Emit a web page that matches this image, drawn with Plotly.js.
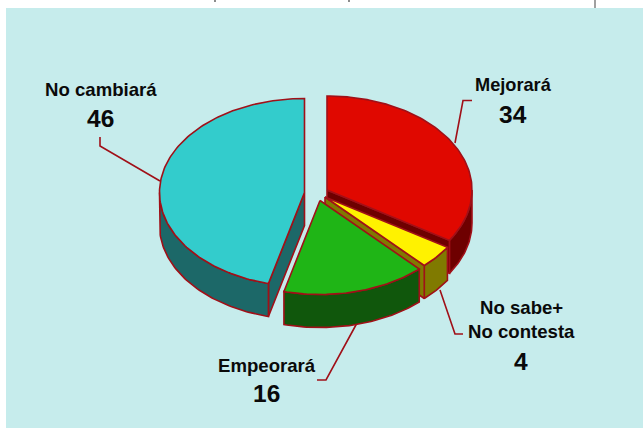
<!DOCTYPE html>
<html>
<head>
<meta charset="utf-8">
<script src="https://cdn.plot.ly/plotly-3.0.1.min.js"></script>
<style>html,body{margin:0;padding:0;background:#fff}</style>
</head>
<body>
<div id="chart" style="width:643px;height:428px"></div>
<script>
const categories = ['Mejorará', 'No sabe+<br>No contesta', 'Empeorará', 'No cambiará'];
const values = [34, 4, 16, 46];
const topColors = ['#e00800', '#fff200', '#1fb516', '#33cccc'];
const wallColors = ['#6e0000', '#807a00', '#10570c', '#1c6868'];
const apexes = [[327, 190], [325, 197], [320, 200.5], [304.5, 192.5]];

const RX = 145, RY = 94, DEPTH = 33;
const EDGE = '#a01018';
const total = values.reduce((a, b) => a + b, 0);

function pt(c, t, drop) {
  return [c[0] + RX * Math.sin(t), c[1] - RY * Math.cos(t) + (drop || 0)];
}
function arc(c, t0, t1, drop) {
  const out = [], n = Math.max(2, Math.ceil(Math.abs(t1 - t0) / 0.02));
  for (let i = 0; i <= n; i++) out.push(pt(c, t0 + (t1 - t0) * i / n, drop));
  return out;
}
function poly(points, fill) {
  const closed = points.concat([points[0]]);
  return {
    type: 'scatter', mode: 'lines', fill: 'toself', fillcolor: fill,
    x: closed.map(p => p[0]), y: closed.map(p => p[1]),
    line: {color: EDGE, width: 1.6}, hoverinfo: 'skip', showlegend: false
  };
}

const starts = [];
let acc = 0;
values.forEach(v => { starts.push(acc / total * 2 * Math.PI); acc += v; });
const ends = values.map((v, i) => starts[i] + v / total * 2 * Math.PI);

function outerWall(i) {
  // only the part of the rim that faces the viewer (PI/2 .. 3PI/2)
  const a = Math.max(starts[i], Math.PI / 2), b = Math.min(ends[i], 3 * Math.PI / 2);
  if (b <= a) return null;
  return poly(arc(apexes[i], a, b, 0).concat(arc(apexes[i], b, a, DEPTH)), wallColors[i]);
}
function cutWall(i, t) {
  const c = apexes[i], p = pt(c, t);
  return poly([c, p, [p[0], p[1] + DEPTH], [c[0], c[1] + DEPTH]], wallColors[i]);
}
function topFace(i) {
  return poly([apexes[i]].concat(arc(apexes[i], starts[i], ends[i], 0)), topColors[i]);
}

const traces = [];
// painter order: back to front
[[3, 0], [0, ends[0]], [1, ends[1]], [2, null]].forEach(([i, t]) => {
  if (i === 3) traces.push(cutWall(3, starts[3]));
  const w = outerWall(i); if (w) traces.push(w);
  if (i === 0) traces.push(cutWall(0, ends[0]));
  if (i === 3) traces.push(topFace(3));
  if (i === 0) traces.push(topFace(0));
  if (i === 1) { traces.push(cutWall(1, ends[1])); traces.push(topFace(1)); }
  if (i === 2) traces.push(topFace(2));
});

function leader(pts) {
  return {type: 'scatter', mode: 'lines', x: pts.map(p => p[0]), y: pts.map(p => p[1]),
    line: {color: EDGE, width: 1.6}, hoverinfo: 'skip', showlegend: false};
}
traces.unshift(leader([[357, 323], [326, 380], [317, 380]]));
traces.unshift(leader([[440, 290], [455, 334], [463, 334]]));
traces.unshift(leader([[455, 143], [463, 100.5], [472, 100.5]]));
traces.unshift(leader([[160, 181], [100, 146], [100, 137]]));

function label(x, y, text, size) {
  return {x, y, xref: 'x', yref: 'y', text: '<b>' + text + '</b>', showarrow: false,
    xanchor: 'center', yanchor: 'middle',
    font: {family: 'Liberation Sans, Arial, sans-serif', size, color: '#0a0a0a'}};
}
const annotations = [
  label(513, 85, categories[0], 18.2), label(513, 114, values[0], 24.5),
  label(521, 307, 'No sabe+', 18.6), label(521.5, 331, 'No contesta', 18.6), label(521, 361, values[1], 24.5),
  label(267, 365, categories[2], 18.6), label(266, 393, values[2], 24.5),
  label(101, 89.5, categories[3], 18.6), label(100, 118, values[3], 24.5)
];

const layout = {
  width: 643, height: 428,
  margin: {l: 0, r: 0, t: 0, b: 0},
  paper_bgcolor: '#ffffff', plot_bgcolor: '#ffffff',
  showlegend: false,
  xaxis: {range: [0, 643], visible: false, fixedrange: true},
  yaxis: {range: [428, 0], visible: false, fixedrange: true},
  shapes: [
    {type: 'rect', layer: 'below', xref: 'x', yref: 'y', x0: 6, x1: 643, y0: 8, y1: 428,
      fillcolor: '#c6ecec', line: {width: 0}},
    {type: 'line', layer: 'below', xref: 'x', yref: 'y', x0: 595, x1: 595, y0: 0, y1: 8,
      line: {color: '#808080', width: 1.5}},
    {type: 'line', layer: 'below', xref: 'x', yref: 'y', x0: 215, x1: 215, y0: 0, y1: 2,
      line: {color: '#404040', width: 1.2}},
    {type: 'line', layer: 'below', xref: 'x', yref: 'y', x0: 349, x1: 349, y0: 0, y1: 2,
      line: {color: '#404040', width: 1.2}}
  ],
  annotations
};
Plotly.newPlot('chart', traces, layout, {displayModeBar: false, staticPlot: true});
</script>
</body>
</html>
